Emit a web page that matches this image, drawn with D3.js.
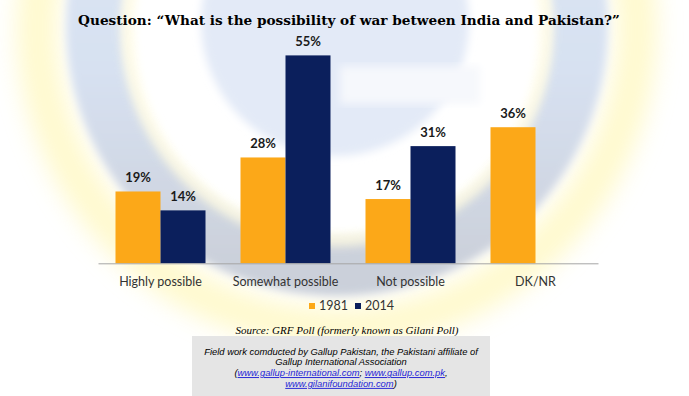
<!DOCTYPE html>
<html>
<head>
<meta charset="utf-8">
<script src="https://cdn.jsdelivr.net/npm/d3@7"></script>
<style>
  body { margin: 0; background: #fff; }
  svg { display: block; }
</style>
</head>
<body>
<div id="chart"></div>
<script>
// data
var categories = ["Highly possible", "Somewhat possible", "Not possible", "DK/NR"];
var years = ["1981", "2014"];
var values1981 = [19, 28, 17, 36];
var values2014 = [14, 55, 31, null];
var yearColors = ["#fca818", "#0b1f5c"];

var width = 689, height = 396;
var margin = {left: 98, right: 91, top: 36.5, bottom: 132.7};

var svg = d3.select("#chart")
  .append("svg")
    .attr("width", width)
    .attr("height", height);

// --- faint Gallup logo watermark behind the chart ---
var defs = svg.append("defs");
defs.append("filter").attr("id", "blur")
  .attr("x", "-20%").attr("y", "-20%").attr("width", "140%").attr("height", "140%")
  .append("feGaussianBlur").attr("stdDeviation", 12);
defs.append("filter").attr("id", "blur2")
  .append("feGaussianBlur").attr("stdDeviation", 4);
var ringGrad = defs.append("linearGradient")
  .attr("id", "ringgrad")
  .attr("x1", 0).attr("y1", 0).attr("x2", 0).attr("y2", 1);
ringGrad.append("stop").attr("offset", 0).attr("stop-color", "#dfe8f7");
ringGrad.append("stop").attr("offset", 0.6).attr("stop-color", "#d7e1f1");
ringGrad.append("stop").attr("offset", 1).attr("stop-color", "#cbd0da");

var logo = svg.append("g");
logo.append("circle")
    .attr("cx", 337).attr("cy", 28).attr("r", 300)
    .attr("fill", "none")
    .attr("stroke", "#fff5a6")
    .attr("stroke-width", 40)
    .attr("opacity", 0.55)
    .attr("filter", "url(#blur)");
logo.append("circle")
    .attr("cx", 337).attr("cy", 25).attr("r", 242)
    .attr("fill", "none")
    .attr("stroke", "url(#ringgrad)")
    .attr("stroke-width", 58)
    .attr("filter", "url(#blur2)");
logo.append("circle")
    .attr("cx", 337).attr("cy", 30).attr("r", 210)
    .attr("fill", "none")
    .attr("stroke", "#fffbe0")
    .attr("stroke-width", 14)
    .attr("opacity", 0.7)
    .attr("filter", "url(#blur2)");
logo.append("circle")
    .attr("cx", 335).attr("cy", 22).attr("r", 134)
    .attr("fill", "#e3eaf7")
    .attr("filter", "url(#blur2)");
logo.append("rect")
    .attr("x", 340).attr("y", 66).attr("width", 140).attr("height", 38)
    .attr("fill", "#f6f8fc")
    .attr("filter", "url(#blur2)");

// --- title ---
var title = svg.append("text")
    .attr("x", 349)
    .attr("y", 25)
    .attr("text-anchor", "middle")
    .attr("font-family", "DejaVu Serif")
    .attr("font-weight", "bold")
    .attr("font-size", 14)
    .attr("fill", "#000")
    .text("Question: \u201CWhat is the possibility of war between India and Pakistan?\u201D");
// squeeze the title to the width it has in the picture
var tw = title.node().getComputedTextLength();
title.attr("font-size", 14 * 542 / tw);

// --- scales ---
var x = d3.scaleBand()
  .domain(categories)
  .range([margin.left, width - margin.right])
  .paddingInner(0.28)
  .paddingOuter(0.14);
var x1 = d3.scaleBand()
  .domain(years)
  .range([0, x.bandwidth()]);
var y = d3.scaleLinear()
  .domain([0, 60])
  .range([height - margin.bottom, margin.top]);

var rows = [];
categories.forEach(function(c, i) {
  rows.push({cat: c, year: "1981", value: values1981[i]});
  if (values2014[i] != null) rows.push({cat: c, year: "2014", value: values2014[i]});
});

// bars
svg.append("g").selectAll("rect")
  .data(rows)
  .join("rect")
    .attr("x", function(d) { return x(d.cat) + x1(d.year); })
    .attr("y", function(d) { return y(d.value); })
    .attr("width", x1.bandwidth())
    .attr("height", function(d) { return y(0) - y(d.value); })
    .attr("fill", function(d) { return yearColors[years.indexOf(d.year)]; });

// value labels
svg.append("g").selectAll("text")
  .data(rows)
  .join("text")
    .attr("x", function(d) { return x(d.cat) + x1(d.year) + x1.bandwidth() / 2; })
    .attr("y", function(d) { return y(d.value) - 9; })
    .attr("text-anchor", "middle")
    .attr("font-family", "Lato")
    .attr("font-weight", "bold")
    .attr("font-size", 13)
    .attr("fill", "#1a1a1a")
    .text(function(d) { return d.value + "%"; });

// x axis
var xAxis = svg.append("g")
  .attr("transform", "translate(0," + y(0) + ")")
  .call(d3.axisBottom(x).tickSize(0).tickPadding(14));
xAxis.select(".domain").attr("stroke", "#a6a6a6");
xAxis.selectAll("text")
  .attr("font-family", "Lato")
  .attr("font-size", 12.5)
  .attr("fill", "#333");

// legend
var legend = svg.append("g").attr("transform", "translate(309,303)");
var legX = [0, 46];
years.forEach(function(yr, i) {
  legend.append("rect")
    .attr("x", legX[i]).attr("y", 0)
    .attr("width", 6).attr("height", 6)
    .attr("fill", yearColors[i]);
  legend.append("text")
    .attr("x", legX[i] + 10).attr("y", 7)
    .attr("font-family", "Lato")
    .attr("font-size", 12.5)
    .attr("fill", "#333")
    .text(yr);
});

// source line
svg.append("text")
  .attr("x", 347).attr("y", 334)
  .attr("text-anchor", "middle")
  .attr("font-family", "Liberation Serif")
  .attr("font-style", "italic")
  .attr("font-size", 11)
  .attr("fill", "#000")
  .text("Source: GRF Poll (formerly known as Gilani Poll)");

// field work box
svg.append("rect")
  .attr("x", 192).attr("y", 336)
  .attr("width", 298).attr("height", 60)
  .attr("fill", "#e5e5e5");

var boxLines = [
  [{t: "Field work comducted by Gallup Pakistan, the Pakistani affiliate of"}],
  [{t: "Gallup International Association"}],
  [{t: "("}, {t: "www.gallup-international.com", link: true}, {t: "; "}, {t: "www.gallup.com.pk", link: true}, {t: ","}],
  [{t: "www.gilanifoundation.com", link: true}, {t: ")"}]
];
var boxText = svg.append("g")
  .attr("font-family", "Liberation Sans")
  .attr("font-style", "italic")
  .attr("font-size", 9.4);
boxLines.forEach(function(line, i) {
  var t = boxText.append("text")
    .attr("x", 341).attr("y", 354.5 + i * 10.8)
    .attr("text-anchor", "middle");
  line.forEach(function(part) {
    t.append("tspan")
      .attr("fill", part.link ? "#1f1fd6" : "#000")
      .attr("text-decoration", part.link ? "underline" : null)
      .text(part.t);
  });
});
</script>
</body>
</html>
